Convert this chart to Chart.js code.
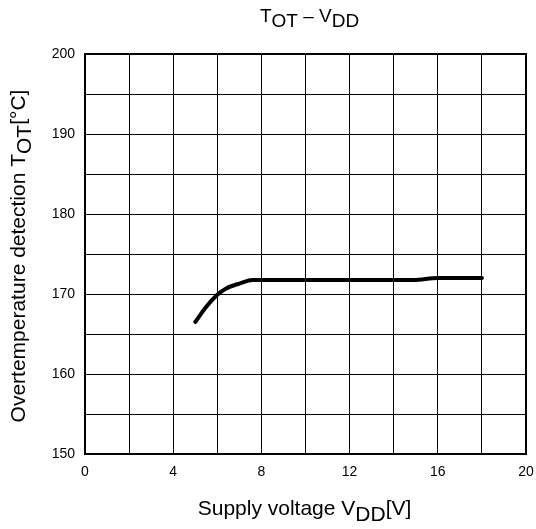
<!DOCTYPE html>
<html>
<head>
<meta charset="utf-8">
<script src="https://cdn.jsdelivr.net/npm/chart.js@4"></script>
<style>
  html, body { margin: 0; padding: 0; background: #fff; }
  #wrap { width: 536px; height: 529px; }
</style>
</head>
<body>
<div id="wrap"><canvas id="chart" width="536" height="529"></canvas></div>
<script>
const vdd = [5.0, 5.5, 6.0, 6.4, 7.0, 7.6, 10.0, 14.9, 16.0, 18.0];
const tot = [166.5, 168.4, 169.9, 170.7, 171.3, 171.75, 171.75, 171.75, 172.0, 172.0];
const xTicks = [0, 4, 8, 12, 16, 20];
const yTicks = [150, 160, 170, 180, 190, 200];

const FONT = '"Liberation Sans", Arial, sans-serif';

// text with subscripts (same size, shifted down), parts = [[text, isSub], ...]
function richText(ctx, parts, x, y, size, angle) {
  ctx.font = size + 'px ' + FONT;
  let total = 0;
  parts.forEach(p => { total += ctx.measureText(p[0]).width; });
  ctx.save();
  ctx.translate(x, y);
  ctx.rotate(angle || 0);
  ctx.fillStyle = '#000';
  ctx.textBaseline = 'alphabetic';
  ctx.textAlign = 'left';
  let cx = -total / 2;
  parts.forEach(p => {
    ctx.fillText(p[0], cx, p[1] ? size * 0.27 : 0);
    cx += ctx.measureText(p[0]).width;
  });
  ctx.restore();
}

const labelsPlugin = {
  id: 'labels',
  afterDraw(chart) {
    const ctx = chart.ctx;
    const a = chart.chartArea;
    const mid = (a.left + a.right) / 2;
    ctx.save();
    ctx.strokeStyle = '#000';
    ctx.lineWidth = 2;
    ctx.strokeRect(a.left, a.top, a.right - a.left, a.bottom - a.top);
    ctx.restore();
    richText(ctx, [['T', false], ['OT', true], [' \u2013 V', false], ['DD', true]], mid + 4, 22, 19);
    richText(ctx, [['Supply voltage V', false], ['DD', true], ['[V]', false]], mid - 1, 515, 21);
    richText(ctx, [['Overtemperature detection T', false], ['OT', true], ['[\u00B0C]', false]],
      25, (a.top + a.bottom) / 2 + 2, 21, -Math.PI / 2);
  }
};

new Chart(document.getElementById('chart'), {
  type: 'scatter',
  data: {
    datasets: [{
      data: vdd.map((v, i) => ({ x: v, y: tot[i] })),
      showLine: true,
      borderColor: '#000',
      borderWidth: 4,
      pointRadius: 0,
      cubicInterpolationMode: 'monotone',
      borderCapStyle: 'round',
      borderJoinStyle: 'round'
    }]
  },
  options: {
    responsive: false,
    animation: false,
    layout: { padding: { left: 0, right: 10, top: 54, bottom: 0 } },
    plugins: { legend: { display: false }, tooltip: { enabled: false } },
    scales: {
      x: {
        type: 'linear',
        min: 0, max: 20,
        afterFit: s => { s.height = 75; s.paddingRight = 0; s.paddingLeft = 0; },
        grid: { color: '#000', lineWidth: 1, drawTicks: false },
        border: { display: false },
        ticks: {
          stepSize: 2,
          padding: 10,
          color: '#000',
          font: { family: FONT, size: 14 },
          callback: v => xTicks.includes(v) ? String(v) : ''
        }
      },
      y: {
        min: 150, max: 200,
        afterFit: s => { s.width = 85; s.paddingTop = 0; s.paddingBottom = 0; },
        grid: { color: '#000', lineWidth: 1, drawTicks: false },
        border: { display: false },
        ticks: {
          stepSize: 5,
          padding: 10,
          color: '#000',
          font: { family: FONT, size: 14 },
          callback: v => yTicks.includes(v) ? String(v) : ''
        }
      }
    }
  },
  plugins: [labelsPlugin]
});
</script>
</body>
</html>
